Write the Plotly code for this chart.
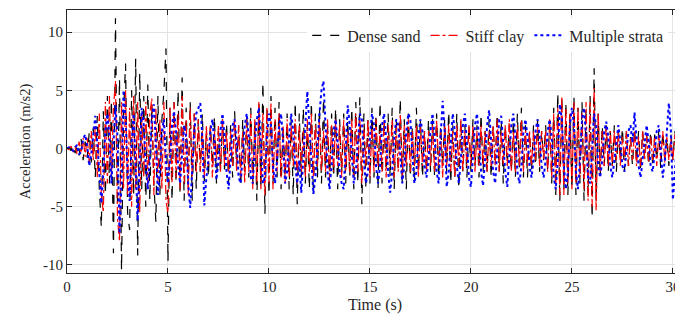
import numpy as np
import plotly.graph_objects as go

DT = 0.1
# acceleration histories (m/s2), sampled every 0.1 s from 0 to 30.5 s
dense_sand = [
    0, 0.1, -0.2, 0.3, -0.4, 0.2, -0.6, 0.8, -1.0, 0.6,
    -0.8, 1.4, -1.2, 1.8, -2.5, 2.8, -3.5, -6.8, 3.2, -4.0,
    4.5, -3.0, 4.2, -9.0, 11.2, -5.0, 6.0, -10.5, 3.0, 7.3,
    -5.5, -7.0, 5.0, -4.0, 7.7, -9.2, 6.5, -3.5, 4.5, -5.0,
    5.5, -4.5, 3.8, -3.0, -6.3, 4.5, -4.0, 2.5, 5.0, 8.6,
    -9.7, 3.5, -4.5, 4.0, -3.0, 5.0, -4.0, 6.1, -4.5, 3.5,
    -3.0, 4.0, -4.5, 3.0, -3.5, 2.5, -2.0, 3.0, -2.8, 1.5,
    -2.5, 2.0, -1.5, 2.8, -3.0, 1.5, -2.0, 2.5, -1.8, 2.2,
    -3.0, 2.0, -2.5, 3.2, -1.5, 2.0, -3.3, 2.5, -2.0, 3.0,
    -2.5, 3.5, -3.0, 2.5, -4.5, 4.0, -3.5, 5.7, -5.6, 3.5,
    -4.0, 4.5, -3.0, 3.5, -2.5, 4.0, -3.5, 2.0, -2.5, 3.0,
    -3.5, 2.5, -4.0, 4.0, -4.8, 3.0, -2.5, 3.5, -3.0, 2.0,
    -3.5, 4.0, -4.0, 3.0, -2.5, 3.5, -3.0, 4.3, -2.5, 2.0,
    -3.0, 3.0, -2.5, 3.5, -3.5, 2.5, -2.0, 3.0, -3.0, 2.5,
    -2.5, 3.5, -3.5, 4.0, -3.0, 4.4, -4.8, 3.0, -3.5, 2.5,
    -3.0, 3.5, -2.5, 3.0, -3.5, 4.0, -3.0, 2.5, -2.0, 3.0,
    -2.5, 3.5, -3.5, 2.5, -2.0, 4.3, -3.0, 2.5, -3.5, 3.0,
    -2.5, 2.0, -3.0, 3.5, -2.0, 2.5, -2.5, 1.5, -2.0, 2.5,
    -2.0, 2.5, -2.5, 3.0, -2.5, 2.0, -1.5, 2.5, -2.0, 3.2,
    -3.0, 2.0, -2.5, 3.0, -3.5, 2.5, -2.0, 2.0, -2.5, 2.0,
    -2.0, 2.5, -1.5, 2.0, -2.5, 3.0, -2.0, 1.5, -2.0, 2.5,
    -2.5, 2.0, -1.5, 3.0, -2.0, 2.5, -3.0, 2.0, -1.5, 2.0,
    -2.0, 2.5, -2.5, 3.0, -2.0, 3.5, -2.5, 2.0, -2.5, 1.5,
    -2.0, 2.0, -1.5, 2.5, -2.0, 1.5, -1.0, 2.0, -2.0, 2.5,
    -3.0, 3.5, -4.0, 4.8, -4.6, 4.5, -3.5, 4.0, -4.0, 3.0,
    -3.5, 4.5, -4.0, 3.5, -3.0, 4.0, -4.5, 3.5, -4.0, 4.5,
    -6.0, 6.9, -4.5, 3.0, -2.5, 2.0, -1.5, 2.0, -2.0, 1.5,
    -1.5, 2.0, -2.0, 1.5, -1.0, 1.8, -2.0, 1.5, -1.5, 1.0,
    -1.5, 1.8, -1.2, 1.5, -2.0, 1.5, -1.0, 1.2, -1.5, 1.5,
    -1.5, 1.2, -1.0, 1.5, -1.8, 1.5, -1.0, 1.0, -1.5, 1.2,
    -1.0, 1.5, -1.2, 1.0, -0.8, 0.5,
]
stiff_clay = [
    0, -0.1, 0.2, -0.3, 0.2, -0.5, 0.6, -0.4, 0.9, -0.7,
    1.0, -1.2, 1.5, -1.0, 2.0, -2.5, 3.0, -4.0, -5.5, 4.0,
    -3.0, 4.5, -2.5, 3.5, 5.8, -6.0, -8.0, 4.0, -3.5, 5.0,
    -4.0, 3.5, -5.0, 4.5, -3.5, 4.0, -5.5, 3.0, -2.5, 4.0,
    -3.5, 3.0, 4.3, -4.0, 3.5, -3.0, 2.5, -3.5, 4.0, -4.5,
    -5.5, 3.5, -3.0, 4.0, -2.5, 3.0, -3.5, 4.5, -3.0, 2.5,
    -4.0, 3.5, -2.5, 3.0, -2.0, 2.5, -2.0, 1.5, -2.5, 2.0,
    -1.5, 2.0, -2.5, 1.5, -1.0, 2.0, -2.0, 2.5, -1.5, 1.5,
    -2.0, 1.5, -1.5, 2.5, -2.0, 2.0, -2.5, 1.5, -3.0, 2.5,
    -2.0, 3.0, -3.5, 2.5, -3.0, 4.0, -3.5, 3.0, -4.0, 3.5,
    -3.0, 4.0, -3.5, 2.5, -2.0, 3.0, -2.5, 2.0, -3.0, 2.5,
    -2.5, 2.0, -1.5, 2.5, -3.0, 2.0, -2.0, 1.5, -2.5, 2.5,
    -2.0, 3.0, -2.5, 2.0, -1.5, 2.5, -2.0, 1.5, -2.0, 2.5,
    -2.5, 2.0, -2.0, 2.5, -1.5, 2.0, -2.5, 2.5, -2.0, 1.5,
    -2.0, 2.5, -2.5, 3.0, -2.0, 2.5, -3.0, 2.0, -1.5, 2.5,
    -2.5, 2.0, -2.0, 2.5, -1.5, 1.5, -2.0, 2.5, -2.5, 2.0,
    -1.5, 2.5, -2.5, 2.0, -2.0, 3.0, -2.5, 2.0, -1.5, 2.5,
    -2.0, 1.5, -1.5, 2.0, -2.5, 2.0, -1.5, 1.5, -2.0, 1.5,
    -1.5, 2.0, -2.0, 2.5, -1.5, 1.5, -2.5, 2.0, -1.5, 2.0,
    -2.0, 1.5, -2.5, 2.0, -1.5, 2.5, -2.0, 1.5, -1.5, 2.0,
    -1.5, 2.0, -2.0, 1.5, -1.5, 2.0, -1.5, 1.5, -2.0, 1.5,
    -1.5, 2.0, -1.5, 2.5, -2.0, 1.5, -1.5, 2.0, -1.5, 2.5,
    -2.0, 1.5, -2.0, 2.0, -1.5, 2.5, -2.0, 1.5, -1.5, 1.5,
    -1.5, 1.5, -1.0, 2.0, -1.5, 1.5, -1.0, 1.5, -2.0, 2.5,
    -2.5, 3.0, -3.5, 3.5, -4.0, 4.5, -4.0, 3.5, -3.0, 3.0,
    -3.5, 4.0, -3.0, 3.5, -2.5, 3.0, -3.5, 4.0, -4.5, 4.0,
    -5.0, 5.2, -5.3, 3.0, -2.0, 1.5, -1.5, 2.0, -1.5, 1.5,
    -1.5, 1.5, -1.0, 1.5, -1.5, 1.0, -1.0, 1.5, -1.5, 1.0,
    -1.0, 1.5, -1.5, 1.0, -1.5, 1.5, -1.0, 1.2, -1.2, 1.0,
    -1.0, 1.0, -1.5, 1.2, -1.0, 1.5, -1.2, 1.0, -1.0, 0.8,
    -1.0, 1.2, -0.8, 1.0, -1.0, 0.5,
]
multiple_strata = [
    0, 0.1, 0.0, -0.2, 0.1, 0.3, -0.5, -0.3, 0.8, 1.2,
    0.2, -1.5, -0.5, 1.5, 2.8, 0.5, -2.0, -4.7, -2.0, 1.5,
    3.0, 1.0, -3.0, 0.5, 3.7, 1.0, -7.3, -3.0, 5.0, 2.5,
    -2.0, -4.5, 0.5, 3.0, -2.0, -6.2, -1.0, 3.5, 2.0, -1.5,
    -3.5, -1.0, 2.5, 3.8, 0.5, -4.0, -2.0, 1.5, 2.5, -1.0,
    -3.0, -1.0, 2.0, 3.2, 1.5, -1.5, -3.0, -0.5, 2.0, 1.0,
    -3.0, -5.1, -2.0, 1.5, 3.0, 3.5, 3.9, 1.0, -4.9, -2.5,
    -1.0, 1.5, 2.5, 0.5, -2.7, -1.0, 1.5, 3.0, 1.0, -2.0,
    -3.5, -1.0, 2.0, 2.5, 0.5, -2.5, -3.0, -0.5, 2.0, 3.0,
    1.0, -2.5, -3.0, 0.5, 2.5, 3.5, 0.5, -3.0, -2.5, 1.0,
    3.0, 2.0, -1.5, -3.0, -1.0, 2.0, 3.0, 0.5, -3.0, -2.0,
    1.0, 3.0, 1.5, -1.5, -3.0, -1.0, -3.8, -1.0, 2.5, 4.9,
    2.0, -1.5, -3.9, -2.5, 0.5, 3.0, 5.0, 5.8, 2.0, -2.0,
    -3.5, -1.5, 1.5, 2.5, 0.5, -2.0, -3.0, -3.5, 0.0, 3.7,
    2.0, -1.0, -3.0, -2.0, 1.0, 3.0, 2.5, -1.0, -3.0, -2.0,
    1.0, 3.0, 2.0, -1.5, -3.0, -1.5, 2.0, 3.0, 1.0, -2.0,
    -3.8, -2.0, 1.0, 2.5, 2.0, -1.0, -3.0, -1.5, 1.5, 3.0,
    2.5, -0.5, -3.0, -2.0, 1.0, 2.5, 1.5, -1.5, -2.5, -1.0,
    1.5, 3.0, 1.0, -2.0, -3.0, 1.0, 4.1, 1.5, -3.3, -2.0,
    1.0, 3.0, 1.5, -1.5, -3.0, -1.0, 2.0, 3.0, 0.5, -2.5,
    -3.3, -1.0, 2.0, 3.0, 1.0, -2.0, -3.2, -1.0, 2.0, 3.3,
    1.0, -2.0, -3.0, 0.0, 2.5, 2.8, 0.5, -2.0, -3.3, -1.0,
    2.0, 3.0, 1.0, -2.0, -3.0, -1.5, 1.5, 2.5, 1.0, -1.5,
    -2.5, -1.0, 1.5, 2.5, 1.0, -1.5, -2.5, -1.0, 1.5, 2.5,
    1.0, -2.5, -3.5, -1.0, 3.8, 2.5, -1.5, -3.5, -2.0, 2.0,
    3.5, 2.0, -2.0, -3.5, -1.0, 2.5, 3.5, 1.0, -2.5, -3.0,
    0.5, 3.0, 2.0, -1.5, -2.5, -1.0, 1.5, 2.3, 1.0, -1.5,
    -2.5, -1.0, 1.0, 2.0, 0.5, -1.5, -2.0, -0.5, 1.5, 2.0,
    0.5, 3.1, 1.0, -1.5, -2.5, -1.0, 1.0, 2.0, 0.5, -1.5,
    -2.0, -0.5, 1.5, 2.0, 0.0, -2.5, -1.0, 2.0, 3.9, 1.5,
    -4.4, -2.0, 1.0, 3.3, 1.5, -1.0,
]
time = np.round(np.arange(len(dense_sand)) * DT, 2)

x_ticks = [0, 5, 10, 15, 20, 25, 30]
y_ticks = [-10, -5, 0, 5, 10]
y_tick_labels = ["-10", "-5", "0", "5", "10"]

FONT = "Liberation Serif"
TXT = "#262626"

fig = go.Figure()
fig.add_trace(go.Scatter(x=time, y=dense_sand, mode="lines", name="Dense sand",
                         line=dict(color="black", width=1.2, dash="dash")))
fig.add_trace(go.Scatter(x=time, y=stiff_clay, mode="lines", name="Stiff clay",
                         line=dict(color="red", width=1.2, dash="dashdot")))
fig.add_trace(go.Scatter(x=time, y=multiple_strata, mode="lines", name="Multiple strata",
                         line=dict(color="blue", width=2, dash="dot")))

axis_common = dict(showline=True, linecolor=TXT, linewidth=1, mirror="ticks",
                   ticks="inside", ticklen=5, tickcolor=TXT,
                   showgrid=True, gridcolor="#e3e3e3", gridwidth=1,
                   zeroline=False, automargin=False,
                   tickfont=dict(family=FONT, size=15, color=TXT))

# page body has an 8 px offset; figure sized to fill the rest of the window
fig.update_layout(
    width=675, height=317,
    margin=dict(l=59, r=0, t=2, b=52),
    paper_bgcolor="white", plot_bgcolor="white",
    font=dict(family=FONT, color=TXT),
    xaxis=dict(range=[0, 30.5], tickvals=x_ticks,
               title=dict(text="Time (s)", font=dict(family=FONT, size=16, color=TXT), standoff=4),
               **axis_common),
    yaxis=dict(range=[-10.7, 11.9], tickvals=y_ticks, ticktext=y_tick_labels,
               title=dict(text="Acceleration (m/s2)", font=dict(family=FONT, size=14.5, color=TXT), standoff=8),
               **axis_common),
    legend=dict(orientation="h", x=0.39, xanchor="left", y=0.968, yanchor="top",
                bgcolor="white", borderwidth=0,
                font=dict(family=FONT, size=16, color=TXT),
                tracegroupgap=0),
    showlegend=True,
)

fig.write_html("out.html")
